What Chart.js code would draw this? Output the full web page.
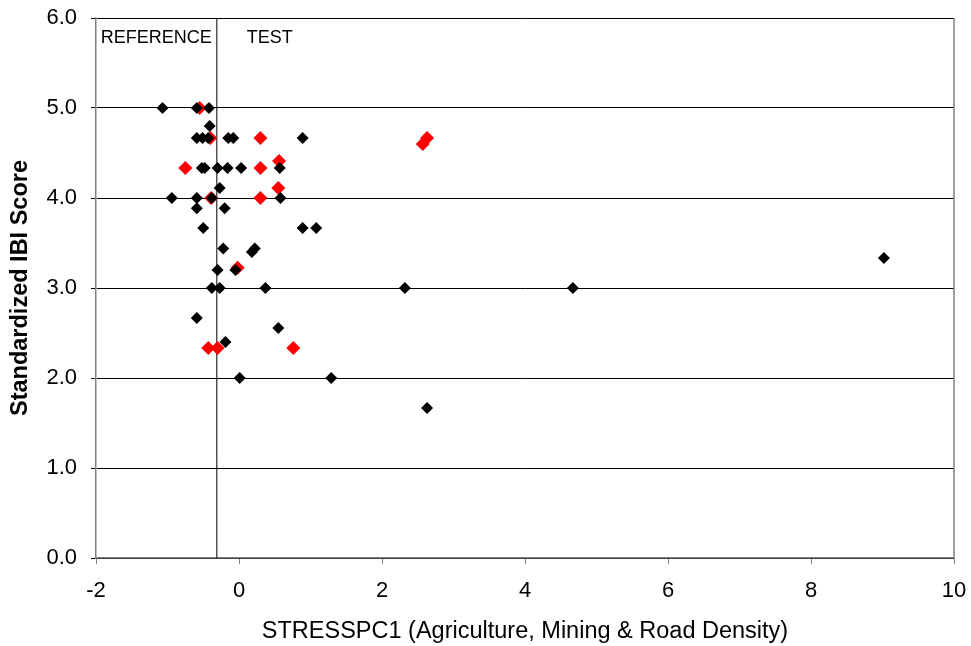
<!DOCTYPE html>
<html>
<head>
<meta charset="utf-8">
<script src="https://cdn.jsdelivr.net/npm/chart.js@4.4.1/dist/chart.umd.min.js"></script>
<style>
  html, body { margin: 0; padding: 0; background: #fff; }
  #grafico { display: block; }
</style>
</head>
<body>
<canvas id="grafico" width="971" height="646"></canvas>
<script>
// pontos pretos
const blackX = [-1.07, -0.59, -0.42, -0.41, -0.59, -0.51, -0.43, -0.15, -0.08, 0.89,
  -0.52, -0.48, -0.30, -0.16, 0.03, 0.57, -0.27, -0.94, -0.59, -0.38,
  0.58, -0.59, -0.20, -0.50, 0.89, 1.08, -0.22, 0.22, 0.18, -0.05,
  -0.30, -0.38, -0.27, 0.37, 2.32, 4.67, 9.02, -0.59, 0.55, -0.19,
  0.01, 1.29, 2.63];
const blackY = [5.0, 5.0, 5.0, 4.8, 4.667, 4.667, 4.667, 4.667, 4.667, 4.667,
  4.333, 4.333, 4.333, 4.333, 4.333, 4.333, 4.11, 4.0, 4.0, 4.0,
  4.0, 3.885, 3.885, 3.667, 3.667, 3.667, 3.44, 3.44, 3.40, 3.20,
  3.20, 3.0, 3.0, 3.0, 3.0, 3.0, 3.333, 2.667, 2.556, 2.40,
  2.0, 2.0, 1.667];

// pontos vermelhos
const redX = [-0.55, -0.40, 0.30, -0.75, 0.30, 0.56, 0.55, -0.39, 0.30, -0.02,
  -0.43, -0.30, 0.76, 2.63, 2.57];
const redY = [5.0, 4.667, 4.667, 4.333, 4.333, 4.41, 4.11, 4.0, 4.0, 3.226,
  2.333, 2.333, 2.333, 4.667, 4.6];

// linha que separa referência / teste
const dividerX = -0.31;
const dividerY = [0, 6];
const zoneLabels = ['REFERENCE', 'TEST'];

const xTicks = [-2, 0, 2, 4, 6, 8, 10];
const yTicks = [0, 1, 2, 3, 4, 5, 6];

const xTitle = 'STRESSPC1 (Agriculture, Mining & Road Density)';
const yTitle = 'Standardized IBI Score';

const FONTE = '"Liberation Sans", Arial, sans-serif';

function toPoints(xs, ys) {
  return xs.map((x, i) => ({ x: x, y: ys[i] }));
}

// tamanho fixo dos eixos, sem folga extra pelos rótulos
function fixaEixo(tam) {
  return function (s) {
    if (s.isHorizontal()) s.height = tam; else s.width = tam;
    s.paddingLeft = 0;
    s.paddingRight = 0;
    s.paddingTop = 0;
    s.paddingBottom = 0;
  };
}

// moldura cinza + textos das zonas
const molduraPlugin = {
  id: 'moldura',
  afterDatasetsDraw(chart) {
    const { ctx, chartArea, scales } = chart;
    ctx.save();
    ctx.strokeStyle = '#808080';
    ctx.lineWidth = 1.5;
    ctx.beginPath();
    ctx.moveTo(chartArea.right, chartArea.top);
    ctx.lineTo(chartArea.right, chartArea.bottom);
    ctx.stroke();

    const px = scales.x.getPixelForValue(dividerX);
    const py = chartArea.top + 20;
    ctx.fillStyle = '#000';
    ctx.font = '18px ' + FONTE;
    ctx.textBaseline = 'middle';
    ctx.textAlign = 'right';
    ctx.fillText(zoneLabels[0], px - 5, py);
    ctx.textAlign = 'left';
    ctx.fillText(zoneLabels[1], px + 30, py);
    ctx.restore();
  }
};

new Chart(document.getElementById('grafico'), {
  type: 'scatter',
  data: {
    datasets: [
      {
        label: 'black',
        data: toPoints(blackX, blackY),
        pointStyle: 'rectRot',
        pointRadius: 6,
        pointHoverRadius: 6,
        backgroundColor: '#000000',
        borderColor: '#000000',
        borderWidth: 0,
        order: 1
      },
      {
        label: 'red',
        data: toPoints(redX, redY),
        pointStyle: 'rectRot',
        pointRadius: 7,
        pointHoverRadius: 7,
        backgroundColor: '#ff0000',
        borderColor: '#ff0000',
        borderWidth: 0,
        order: 2
      },
      {
        label: 'divisor',
        data: toPoints([dividerX, dividerX], dividerY),
        showLine: true,
        pointRadius: 0,
        borderColor: '#000000',
        borderWidth: 1,
        order: 3
      }
    ]
  },
  options: {
    responsive: false,
    animation: false,
    events: [],
    layout: { padding: { top: 18, right: 17, left: 0, bottom: 0 } },
    plugins: {
      legend: { display: false },
      tooltip: { enabled: false }
    },
    scales: {
      x: {
        type: 'linear',
        min: -2,
        max: 10,
        afterBuildTicks: (s) => { s.ticks = xTicks.map(v => ({ value: v })); },
        afterFit: fixaEixo(88),
        border: { color: '#808080', width: 1.5 },
        grid: { drawOnChartArea: false, drawTicks: true, tickLength: 6, color: '#808080' },
        ticks: {
          color: '#000',
          padding: 14,
          font: { family: FONTE, size: 22 }
        },
        title: {
          display: true,
          text: xTitle,
          color: '#000',
          padding: { top: 0, bottom: 0 },
          font: { family: FONTE, size: 23.5 }
        }
      },
      y: {
        type: 'linear',
        min: 0,
        max: 6,
        afterBuildTicks: (s) => { s.ticks = yTicks.map(v => ({ value: v })); },
        afterFit: fixaEixo(96),
        border: { color: '#808080', width: 1.5 },
        grid: { color: '#000000', lineWidth: 1, drawTicks: true, tickLength: 5 },
        ticks: {
          color: '#000',
          padding: 14,
          font: { family: FONTE, size: 22 },
          callback: (v) => Number(v).toFixed(1)
        },
        title: {
          display: true,
          text: yTitle,
          color: '#000',
          padding: { top: 6, bottom: 0 },
          font: { family: FONTE, size: 23.5, weight: 'bold' }
        }
      }
    }
  },
  plugins: [molduraPlugin]
});
</script>
</body>
</html>
